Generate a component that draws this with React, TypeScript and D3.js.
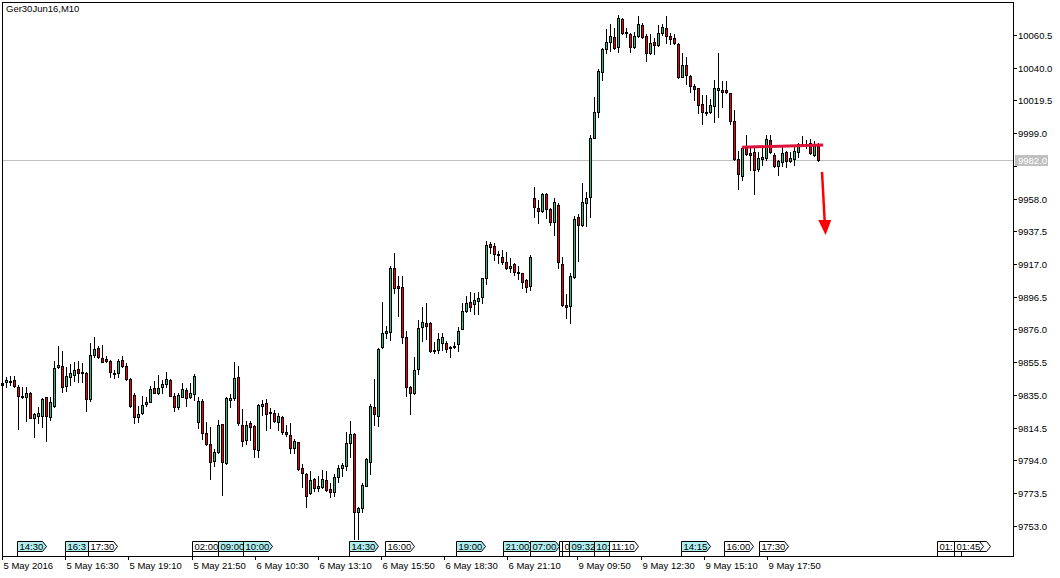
import * as d3 from 'd3';

// Ger30 Jun16, M10 bars (price)
const opens = [
  9841.1, 9842.8, 9843.2, 9844.3, 9840.1, 9834.2, 9833.8, 9836.3, 9820.7, 9821.9,
  9821.9, 9833.4, 9821.3, 9828.0, 9852.2, 9853.0, 9840.7, 9845.9, 9847.4, 9851.2,
  9849.5, 9848.9, 9832.1, 9859.9, 9864.1, 9857.8, 9857.2, 9856.2, 9848.0, 9848.4,
  9856.8, 9853.0, 9844.9, 9834.9, 9820.9, 9823.4, 9829.0, 9830.7, 9839.1, 9835.9,
  9840.1, 9841.6, 9844.3, 9834.3, 9827.2, 9833.9, 9838.0, 9833.4, 9835.3, 9817.8,
  9831.1, 9810.9, 9804.0, 9793.5, 9799.0, 9816.5, 9792.1, 9831.8, 9833.2, 9846.0,
  9816.1, 9806.7, 9817.1, 9815.7, 9800.4, 9828.2, 9829.7, 9824.0, 9823.4, 9818.2,
  9821.3, 9811.9, 9809.8, 9801.9, 9805.2, 9788.9, 9785.2, 9773.3, 9782.0, 9776.8,
  9777.4, 9781.6, 9776.0, 9774.3, 9783.7, 9788.9, 9790.4, 9805.0, 9810.2, 9761.4,
  9764.3, 9778.1, 9793.1, 9827.2, 9822.0, 9865.2, 9873.9, 9874.6, 9914.3, 9903.2,
  9902.4, 9871.0, 9840.1, 9835.9, 9851.0, 9877.3, 9879.8, 9879.8, 9863.1, 9863.1,
  9867.3, 9867.3, 9864.1, 9864.8, 9866.6, 9876.0, 9887.5, 9893.0, 9891.7, 9893.8,
  9896.1, 9908.0, 9929.3, 9928.3, 9923.5, 9921.6, 9918.5, 9914.3, 9916.8, 9912.2,
  9911.1, 9906.9, 9903.2, 9958.2, 9951.9, 9950.4, 9960.9, 9951.5, 9943.5, 9954.0,
  9916.8, 9891.3, 9890.9, 9908.6, 9946.3, 9941.4, 9955.0, 9959.2, 9996.2, 10012.0,
  10037.5, 10051.7, 10056.3, 10059.5, 10052.8, 10070.5, 10062.2, 10060.9, 10052.8, 10060.1,
  10066.8, 10059.9, 10049.0, 10056.3, 10054.2, 10061.6, 10065.1, 10059.9, 10058.4, 10054.9,
  10034.4, 10041.7, 10035.0, 10028.5, 10027.1, 10017.1, 10012.5, 10012.0, 10016.0, 10026.0,
  10026.0, 10026.0, 10024.0, 10006.6, 9982.6, 9972.4, 9990.5, 9986.3, 9987.0, 9976.3,
  9982.6, 9983.2, 9994.7, 9985.3, 9978.4, 9981.1, 9987.0, 9981.8, 9982.6, 9987.4,
  9991.4, 9991.4, 9992.6, 9985.3, 9992.0,
];
const highs = [
  9843.2, 9846.4, 9846.8, 9846.8, 9841.1, 9840.1, 9840.1, 9837.0, 9823.4, 9827.6,
  9833.2, 9833.8, 9833.8, 9856.2, 9865.8, 9862.6, 9852.6, 9854.1, 9855.8, 9856.2,
  9854.7, 9849.5, 9867.2, 9871.4, 9865.8, 9866.2, 9859.5, 9856.8, 9850.5, 9857.2,
  9859.3, 9854.7, 9845.3, 9835.9, 9828.2, 9834.3, 9833.8, 9840.7, 9843.7, 9847.4,
  9844.3, 9849.1, 9844.7, 9835.9, 9836.4, 9842.2, 9839.1, 9842.6, 9848.1, 9833.9,
  9832.2, 9817.8, 9814.6, 9801.1, 9819.2, 9816.5, 9833.4, 9835.3, 9855.8, 9853.1,
  9826.1, 9818.6, 9818.8, 9816.1, 9829.0, 9831.8, 9832.4, 9826.5, 9825.5, 9823.4,
  9822.0, 9816.1, 9817.1, 9807.3, 9805.6, 9791.6, 9785.8, 9787.5, 9782.7, 9784.1,
  9787.9, 9787.3, 9779.5, 9785.4, 9791.0, 9792.1, 9811.9, 9818.6, 9810.9, 9764.9,
  9779.5, 9795.2, 9829.0, 9844.9, 9864.6, 9893.4, 9878.3, 9915.7, 9923.7, 9909.5,
  9909.5, 9875.0, 9840.5, 9858.5, 9881.9, 9890.3, 9892.8, 9880.4, 9867.9, 9873.5,
  9873.5, 9868.9, 9865.6, 9868.3, 9877.7, 9892.8, 9896.9, 9899.2, 9899.0, 9899.6,
  9908.4, 9931.4, 9931.0, 9929.9, 9925.1, 9925.8, 9924.3, 9920.5, 9917.4, 9915.7,
  9911.6, 9907.4, 9922.6, 9965.5, 9957.1, 9961.7, 9961.3, 9951.9, 9958.6, 9955.4,
  9921.2, 9898.2, 9911.1, 9947.1, 9948.1, 9968.0, 9962.3, 9997.8, 10021.4, 10039.2,
  10052.6, 10064.3, 10067.4, 10064.7, 10073.0, 10071.0, 10064.7, 10061.6, 10062.6, 10072.4,
  10067.8, 10060.9, 10060.9, 10058.8, 10066.8, 10067.2, 10072.4, 10062.0, 10060.9, 10055.3,
  10049.4, 10046.5, 10035.4, 10029.8, 10027.5, 10022.9, 10022.9, 10020.2, 10032.3, 10049.4,
  10031.7, 10031.7, 10024.0, 10013.5, 9987.8, 9991.0, 9997.8, 9990.5, 9990.5, 9987.0,
  9990.5, 9997.8, 9997.8, 9986.4, 9982.2, 9990.5, 9987.8, 9987.4, 9990.1, 9992.6,
  9997.2, 9994.7, 9995.1, 9994.3, 9993.0,
];
const lows = [
  9838.0, 9840.1, 9841.1, 9840.1, 9813.3, 9832.8, 9818.8, 9820.2, 9808.3, 9817.1,
  9815.0, 9806.2, 9819.2, 9827.6, 9851.6, 9836.5, 9837.6, 9841.1, 9843.8, 9843.2,
  9842.8, 9825.0, 9831.3, 9858.9, 9857.8, 9855.3, 9855.8, 9846.4, 9845.3, 9845.9,
  9852.6, 9844.3, 9827.6, 9817.1, 9818.2, 9823.0, 9828.2, 9830.3, 9835.9, 9835.5,
  9835.9, 9840.1, 9834.3, 9825.1, 9826.1, 9833.4, 9828.2, 9833.2, 9831.8, 9814.0,
  9807.3, 9803.6, 9782.0, 9790.4, 9798.3, 9772.2, 9791.7, 9827.2, 9831.8, 9816.1,
  9803.1, 9804.2, 9806.7, 9796.3, 9796.3, 9822.4, 9813.0, 9814.0, 9818.2, 9813.0,
  9810.4, 9809.2, 9798.3, 9798.3, 9787.9, 9777.4, 9764.5, 9772.8, 9775.0, 9775.0,
  9776.4, 9775.0, 9770.8, 9771.8, 9780.2, 9784.3, 9787.9, 9796.3, 9744.4, 9744.4,
  9761.4, 9777.9, 9785.4, 9816.1, 9815.7, 9864.6, 9870.4, 9869.4, 9898.6, 9884.6,
  9867.7, 9834.5, 9822.8, 9835.5, 9847.8, 9868.9, 9869.8, 9862.1, 9861.4, 9861.4,
  9863.1, 9862.1, 9858.9, 9864.6, 9862.5, 9876.0, 9886.7, 9887.8, 9885.6, 9885.4,
  9892.3, 9904.5, 9924.1, 9919.5, 9917.4, 9917.0, 9913.6, 9912.2, 9910.1, 9907.4,
  9901.7, 9899.2, 9900.7, 9946.2, 9942.5, 9949.8, 9945.6, 9941.4, 9935.2, 9914.3,
  9890.7, 9882.9, 9879.8, 9908.0, 9919.1, 9941.0, 9941.0, 9946.7, 9995.8, 10008.9,
  10032.3, 10049.0, 10050.7, 10051.5, 10050.1, 10060.9, 10059.5, 10049.6, 10052.1, 10059.5,
  10058.4, 10044.4, 10048.6, 10048.6, 10053.8, 10060.5, 10055.3, 10054.7, 10054.9, 10033.4,
  10034.0, 10029.8, 10025.0, 10019.8, 10011.4, 10004.5, 10010.4, 10011.4, 10006.2, 10009.3,
  10015.6, 10024.4, 10004.5, 9982.2, 9964.0, 9969.6, 9985.3, 9975.9, 9960.9, 9975.5,
  9979.0, 9982.2, 9986.4, 9978.0, 9972.8, 9978.4, 9978.0, 9980.9, 9979.0, 9984.3,
  9990.9, 9989.5, 9985.9, 9984.7, 9981.8,
];
const closes = [
  9842.2, 9844.3, 9843.8, 9840.5, 9834.4, 9833.4, 9836.3, 9820.7, 9822.7, 9823.4,
  9832.4, 9821.9, 9830.3, 9851.6, 9853.7, 9840.1, 9846.8, 9848.4, 9850.5, 9848.4,
  9848.9, 9832.1, 9859.9, 9863.7, 9858.9, 9855.3, 9856.4, 9849.1, 9848.9, 9856.2,
  9853.0, 9844.9, 9828.0, 9820.9, 9822.8, 9828.6, 9830.7, 9838.5, 9835.9, 9839.1,
  9841.8, 9844.7, 9834.5, 9827.2, 9834.9, 9838.5, 9832.8, 9836.4, 9846.8, 9831.1,
  9810.9, 9804.0, 9792.7, 9799.0, 9816.1, 9793.1, 9832.8, 9832.8, 9845.3, 9817.1,
  9806.1, 9816.1, 9815.1, 9800.8, 9828.6, 9829.3, 9822.8, 9823.4, 9818.8, 9821.7,
  9811.5, 9810.2, 9801.5, 9806.1, 9788.5, 9785.8, 9771.8, 9781.6, 9776.8, 9777.9,
  9782.0, 9775.4, 9774.3, 9783.3, 9788.9, 9791.0, 9804.6, 9810.2, 9761.8, 9764.3,
  9778.5, 9794.6, 9828.0, 9823.0, 9863.5, 9873.5, 9875.0, 9914.3, 9901.7, 9901.7,
  9871.5, 9840.1, 9835.9, 9850.5, 9876.7, 9880.4, 9878.3, 9862.7, 9862.5, 9869.8,
  9871.0, 9863.5, 9865.2, 9865.8, 9875.0, 9887.5, 9892.3, 9890.3, 9894.4, 9895.9,
  9908.0, 9928.9, 9927.4, 9923.1, 9922.4, 9918.5, 9914.3, 9915.7, 9911.8, 9911.1,
  9905.9, 9902.4, 9921.2, 9952.9, 9950.4, 9960.9, 9951.5, 9943.5, 9955.6, 9918.5,
  9891.3, 9890.3, 9909.5, 9945.2, 9941.4, 9955.6, 9958.6, 9995.8, 10012.0, 10037.9,
  10051.7, 10055.9, 10059.9, 10052.1, 10071.0, 10061.6, 10061.6, 10052.8, 10059.9, 10067.2,
  10059.1, 10049.0, 10055.7, 10054.2, 10062.0, 10065.7, 10059.9, 10057.8, 10055.3, 10034.4,
  10041.7, 10035.4, 10028.5, 10026.7, 10016.6, 10012.0, 10011.8, 10016.6, 10027.1, 10027.1,
  10024.6, 10024.6, 10006.6, 9982.6, 9973.2, 9989.9, 9985.7, 9985.3, 9975.9, 9983.2,
  9984.3, 9995.1, 9987.0, 9978.4, 9981.8, 9986.4, 9981.8, 9983.2, 9987.8, 9992.0,
  9992.2, 9992.2, 9986.4, 9990.9, 9982.2,
];

const priceTicks = [
  9753.0, 9773.5, 9794.0, 9814.5, 9835.0, 9855.5, 9876.0, 9896.5,
  9917.0, 9937.5, 9958.0, 9978.5, 9999.0, 10019.5, 10040.0, 10060.5,
];

const timeLabels = [
  '5 May 2016', '5 May 16:30', '5 May 19:10', '5 May 21:50', '6 May 10:30',
  '6 May 13:10', '6 May 15:50', '6 May 18:30', '6 May 21:10', '9 May 09:50',
  '9 May 12:30', '9 May 15:10', '9 May 17:50',
];
const timeLabelBars = [0, 15.75, 31.5, 47.4, 63.2, 78.9, 94.75, 110.5, 126.25, 143.8, 159.7, 175.4, 191.25];

// event markers along the bottom (drawn in this order, later ones on top)
const eventTimes = [
  '14:30', '16:30', '17:30', '02:00', '09:00', '10:00', '14:30', '16:00', '19:00', '21:00',
  '07:00', '08:00', '09:00', '09:32', '10:00', '11:10', '14:15', '16:00', '17:30', '01:00',
  '02:00', '01:45',
];
const eventBars = [
  3.8, 15.75, 21.6, 47.4, 54.1, 60.2, 86.8, 95.75, 113.5, 125.2,
  132, 139.25, 139.9, 141.75, 148.1, 151.8, 169.7, 180.5, 189.25, 233.7,
  239.75, 238,
];
const eventHighlight = [
  true, true, false, false, true, true, true, false, true, true,
  true, false, false, true, true, false, true, false, false, false,
  false, false,
];

const symbolTitle = 'Ger30Jun16,M10';
const currentPrice = 9982.0;
const trendBars = [185, 205.3];
const trendPrices = [9990.2, 9991.6];
const arrowBars = [205, 205.9];
const arrowPrices = [9974.7, 9935.2];

const W = 1060;
const H = 578;
const plot = { left: 2, right: 1013, top: 2, bottom: 556 };
const FONT = '"Liberation Sans", Arial, sans-serif';
const FS = 9.5;
const UP = '#3cb371';
const DOWN = '#f00000';

// rough glyph widths for the label font, used to cut labels hidden under later boxes
const charW = (ch: string) => (ch === ':' ? FS * 0.278 : FS * 0.556);

export default function App() {
  const x = d3.scaleLinear().domain([0, 252.75]).range([plot.left, plot.right]);
  const y = d3.scaleLinear().domain([9734.0, 10081.2]).range([plot.bottom, plot.top]);

  const candles = opens.map((o, i) => {
    const c = closes[i];
    const cx = Math.round(x(i));
    const yt = Math.round(y(Math.max(o, c)));
    const yb = Math.round(y(Math.min(o, c)));
    const yh = Math.round(y(highs[i]));
    const yl = Math.round(y(lows[i]));
    return (
      <g key={i}>
        <rect x={cx} y={yh} width={1} height={yl - yh + 1} fill="#000" />
        <rect x={cx - 1} y={yt} width={3} height={Math.max(1, yb - yt + 1)} fill="#000" />
        {yb - yt > 1 && (
          <rect x={cx} y={yt + 1} width={1} height={yb - yt - 1} fill={c >= o ? UP : DOWN} />
        )}
      </g>
    );
  });

  const cpY = Math.round(y(currentPrice)) + 0.5;

  const arrowX1 = x(arrowBars[0]);
  const arrowY1 = y(arrowPrices[0]);
  const arrowX2 = x(arrowBars[1]);
  const arrowY2 = y(arrowPrices[1]);
  const headLen = 15;
  const headBaseY = arrowY2 - headLen;
  const headBaseX = arrowX1 + (arrowX2 - arrowX1) * (headBaseY - arrowY1) / (arrowY2 - arrowY1);

  const boxTop = 541.5;
  const boxBottom = 551.5;
  const boxW = 25;
  const tip = 4;
  const boxXs = eventBars.map((b) => Math.round(x(b)) + 0.5);

  // part of each label left visible by the boxes drawn after it
  const visibleText = eventTimes.map((t, i) => {
    const start = boxXs[i] + 2;
    let end = Infinity;
    for (let j = i + 1; j < boxXs.length; j++) {
      const s = boxXs[j];
      const e = s + boxW + tip;
      if (s <= start && e > start) return '';
      if (s > start) end = Math.min(end, s);
    }
    let out = '';
    let w = 0;
    for (const ch of t) {
      w += charW(ch);
      if (start + w > end + 1.5) break;
      out += ch;
    }
    return out;
  });

  return (
    <div style={{ position: 'absolute', left: 0, top: 0, background: '#fff' }}>
      <svg width={W} height={H} style={{ display: 'block' }} fontFamily={FONT}>
        <rect x={0} y={0} width={W} height={H} fill="#fff" />

        {/* current price line */}
        <line x1={plot.left} x2={plot.right} y1={cpY} y2={cpY} stroke="#c0c0c0" strokeWidth={1} />

        <g shapeRendering="crispEdges">{candles}</g>

        {/* trend line */}
        <line
          x1={x(trendBars[0])} y1={y(trendPrices[0])}
          x2={x(trendBars[1])} y2={y(trendPrices[1])}
          stroke="#dc143c" strokeWidth={3}
        />

        {/* down arrow */}
        <line x1={arrowX1} y1={arrowY1} x2={headBaseX} y2={headBaseY + 2} stroke="#ff0000" strokeWidth={2.5} />
        <polygon
          points={`${headBaseX - 6.5},${headBaseY} ${headBaseX + 6.5},${headBaseY} ${arrowX2},${arrowY2}`}
          fill="#ff0000"
        />

        {/* event markers */}
        <g fontSize={FS}>
          {eventTimes.map((t, i) => {
            const bx = boxXs[i];
            const mid = (boxTop + boxBottom) / 2;
            return (
              <g key={i}>
                <line x1={bx} x2={bx} y1={boxBottom} y2={plot.bottom} stroke="#000" strokeWidth={1} />
                <polygon
                  points={`${bx},${boxTop} ${bx + boxW},${boxTop} ${bx + boxW + tip},${mid} ${bx + boxW},${boxBottom} ${bx},${boxBottom}`}
                  fill={eventHighlight[i] ? '#aeeeee' : '#fff'}
                  stroke="#000"
                  strokeWidth={1}
                />
                {visibleText[i] && (
                  <text x={bx + 2} y={boxBottom - 1.5} fill="#000">{visibleText[i]}</text>
                )}
              </g>
            );
          })}
        </g>

        {/* frame */}
        <rect
          x={plot.left + 0.5} y={plot.top + 0.5}
          width={plot.right - plot.left} height={plot.bottom - plot.top}
          fill="none" stroke="#000" strokeWidth={1}
        />

        <text x={6} y={12} fontSize={FS} fill="#000">{symbolTitle}</text>

        {/* right price axis */}
        <g fontSize={FS}>
          {priceTicks.map((p) => {
            const ty = Math.round(y(p)) + 0.5;
            return (
              <g key={p}>
                <line x1={plot.right} x2={plot.right + 4} y1={ty} y2={ty} stroke="#000" />
                {Math.abs(ty - cpY) > 9 && (
                  <text x={plot.right + 5} y={ty + 3.5} fill="#000">{p.toFixed(1)}</text>
                )}
              </g>
            );
          })}
          <rect x={plot.right + 2} y={cpY - 5.5} width={33} height={11} fill="#c0c0c0" />
          <text x={plot.right + 5} y={cpY + 3.5} fill="#fff">{currentPrice.toFixed(1)}</text>
        </g>

        {/* bottom time axis */}
        <g fontSize={FS}>
          {timeLabels.map((t, i) => {
            const tx = Math.round(x(timeLabelBars[i])) + 0.5;
            return (
              <g key={t}>
                <line x1={tx} x2={tx} y1={plot.bottom} y2={plot.bottom + 4} stroke="#000" />
                <text x={tx + 1} y={plot.bottom + 13} fill="#000">{t}</text>
              </g>
            );
          })}
        </g>
      </svg>
    </div>
  );
}
